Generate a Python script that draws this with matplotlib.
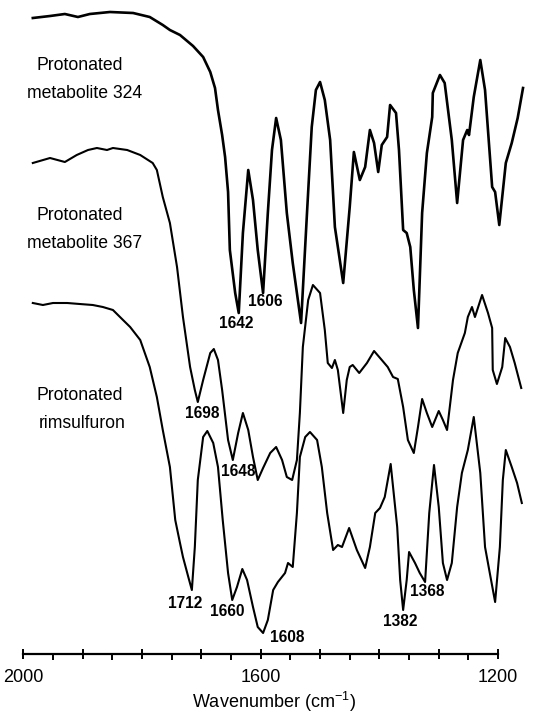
import numpy as np
import matplotlib
matplotlib.use('Agg')
import matplotlib.pyplot as plt
import matplotlib.ticker as ticker

# IR spectra: wavenumber (cm-1) and offset transmittance (arbitrary units)
wn_324 = [1984, 1955, 1930, 1908, 1888, 1854, 1815, 1787, 1765, 1753, 1736, 1714, 1697, 1685,
          1677, 1672, 1665, 1660, 1655, 1652, 1643, 1637, 1630, 1621, 1613, 1605, 1596, 1588,
          1581, 1574, 1566, 1556, 1546, 1532, 1522, 1514, 1507, 1500, 1492, 1483, 1475, 1461,
          1450, 1443, 1433, 1424, 1416, 1409, 1402, 1396, 1387, 1382, 1372, 1367, 1360, 1354,
          1348, 1342, 1335, 1328, 1320, 1311, 1310, 1298, 1290, 1278, 1269, 1259, 1252, 1249,
          1241, 1230, 1222, 1210, 1205, 1198, 1187, 1177, 1167, 1158]
t_324 = [636, 638, 640, 637, 640, 642, 641, 637, 629, 624, 619, 608, 597, 582,
         566, 544, 519, 497, 462, 404, 361, 341, 421, 484, 454, 404, 361, 441,
         504, 536, 514, 441, 391, 331, 441, 527, 564, 572, 554, 514, 427, 371,
         447, 502, 474, 487, 524, 511, 482, 509, 517, 549, 541, 504, 424, 421,
         407, 364, 326, 441, 501, 537, 561, 579, 571, 514, 451, 514, 524, 519,
         557, 594, 564, 467, 462, 429, 491, 511, 536, 566]

wn_367 = [1984, 1955, 1930, 1910, 1891, 1876, 1859, 1849, 1825, 1803, 1782, 1775, 1765, 1753,
          1741, 1731, 1719, 1711, 1706, 1697, 1685, 1679, 1672, 1665, 1655, 1647, 1638, 1630,
          1621, 1613, 1605, 1596, 1584, 1574, 1564, 1556, 1547, 1539, 1534, 1529, 1520, 1512,
          1500, 1492, 1487, 1480, 1475, 1470, 1461, 1455, 1450, 1445, 1434, 1421, 1409, 1396,
          1386, 1377, 1369, 1360, 1352, 1342, 1335, 1328, 1320, 1311, 1300, 1293, 1286, 1276,
          1268, 1256, 1251, 1244, 1239, 1227, 1217, 1210, 1209, 1202, 1193, 1188, 1180, 1172, 1161]
t_367 = [491, 496, 492, 499, 504, 506, 504, 506, 504, 499, 491, 484, 457, 431,
         387, 337, 287, 264, 252, 274, 301, 305, 294, 264, 214, 194, 221, 241,
         224, 197, 174, 186, 201, 207, 194, 177, 174, 194, 241, 307, 354, 369,
         361, 324, 291, 286, 294, 284, 241, 274, 287, 289, 281, 291, 303, 294,
         287, 277, 275, 247, 214, 201, 227, 255, 241, 227, 243, 234, 224, 274,
         301, 321, 337, 347, 337, 359, 341, 326, 284, 270, 287, 316, 307, 291, 266]

wn_rim = [1984, 1967, 1950, 1926, 1905, 1883, 1866, 1849, 1832, 1820, 1803, 1787, 1775, 1765,
          1753, 1744, 1736, 1731, 1722, 1716, 1711, 1706, 1697, 1690, 1680, 1672, 1664, 1655,
          1648, 1640, 1631, 1623, 1613, 1605, 1596, 1588, 1579, 1571, 1559, 1554, 1546, 1539,
          1534, 1525, 1517, 1505, 1497, 1488, 1478, 1470, 1463, 1451, 1438, 1424, 1416, 1407,
          1399, 1391, 1381, 1370, 1365, 1360, 1354, 1350, 1340, 1332, 1323, 1316, 1308, 1300,
          1293, 1286, 1278, 1269, 1261, 1251, 1241, 1230, 1222, 1214, 1205, 1197, 1192, 1187,
          1177, 1168, 1160]
t_rim = [351, 349, 351, 351, 350, 349, 347, 344, 334, 327, 314, 287, 257, 224,
         187, 134, 111, 97, 77, 64, 107, 174, 217, 223, 211, 187, 134, 81,
         54, 67, 85, 74, 47, 27, 21, 34, 64, 72, 81, 91, 87, 141,
         197, 217, 222, 214, 187, 141, 104, 109, 107, 126, 104, 86, 107, 141,
         146, 157, 190, 127, 74, 44, 74, 102, 91, 81, 72, 141, 189, 147,
         91, 74, 91, 147, 181, 204, 237, 181, 107, 81, 52, 107, 174, 204,
         187, 171, 151]

# peak annotations: text, wavenumber, height
peak_labels = ['1642', '1606', '1698', '1648', '1712', '1660', '1608', '1382', '1368']
peak_wn = [1642, 1593, 1699, 1638, 1728, 1657, 1556, 1365, 1320]
peak_t = [330, 352, 240, 182, 51, 42, 17, 32, 62]

# sample names
sample_lines = ['Protonated', 'metabolite 324', 'Protonated', 'metabolite 367',
                'Protonated', 'rimsulfuron']
sample_wn = [1905, 1896, 1905, 1896, 1905, 1901]
sample_t = [589, 561, 438, 411, 259, 231]

plt.rcParams['mathtext.fontset'] = 'custom'
plt.rcParams['mathtext.rm'] = 'Liberation Sans'
plt.rcParams['mathtext.it'] = 'Liberation Sans'

fig = plt.figure(figsize=(5.48, 7.21), dpi=100)
ax = fig.add_axes([0, 67/721, 1, 654/721])

ax.plot(wn_324, t_324, color='black', lw=1.9, solid_joinstyle='round', clip_on=False)
ax.plot(wn_367, t_367, color='black', lw=1.5, solid_joinstyle='round', clip_on=False)
ax.plot(wn_rim, t_rim, color='black', lw=1.5, solid_joinstyle='round', clip_on=False)

for lab, x, y in zip(peak_labels, peak_wn, peak_t):
    ax.text(x, y, lab, ha='center', va='center', fontsize=11.2, fontweight='bold',
            family=['Liberation Sans', 'DejaVu Sans'])

for lab, x, y in zip(sample_lines, sample_wn, sample_t):
    ax.text(x, y, lab, ha='center', va='center', fontsize=12.7,
            family=['Liberation Sans', 'DejaVu Sans'])

ax.set_xlim(2039.3, 1115.9)
ax.set_ylim(0, 654)

for s in ['top', 'right', 'left']:
    ax.spines[s].set_visible(False)
ax.spines['bottom'].set_bounds(1200, 2000)
ax.spines['bottom'].set_linewidth(1.6)
ax.yaxis.set_visible(False)

ax.xaxis.set_major_locator(ticker.FixedLocator([2000, 1900, 1800, 1700, 1600, 1500, 1400, 1300, 1200]))
ax.xaxis.set_major_formatter(ticker.FixedFormatter(['2000', '', '', '', '1600', '', '', '', '1200']))
ax.xaxis.set_minor_locator(ticker.FixedLocator([1950, 1850, 1750, 1650, 1550, 1450, 1350, 1250]))
ax.tick_params(axis='x', which='major', direction='inout', length=7, width=1.4, pad=7,
               labelsize=13, labelfontfamily='Liberation Sans')
ax.tick_params(axis='x', which='minor', direction='out', length=4, width=1.4)

ax.set_xlabel('Wavenumber (cm$^{\\mathregular{-1}}$)', fontsize=13, family='Liberation Sans',
              labelpad=3)

fig.savefig('out.png', dpi=100)
